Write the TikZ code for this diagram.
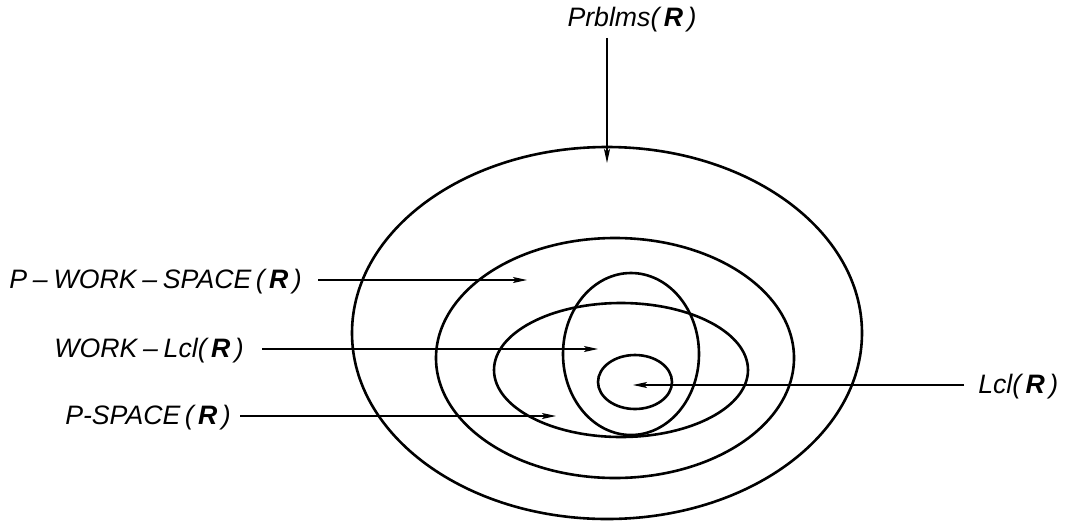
\documentclass[tikz,border=0pt]{standalone}
\usepackage{fontspec}
\setmainfont{Liberation Sans}
\usetikzlibrary{arrows.meta}
\tikzset{
  ring/.style={line width=2.6pt*0.75},
  lbl/.style={inner sep=0pt, font=\fontsize{20}{24}\selectfont\itshape},
  pointer/.style={line width=0.8pt, -{Stealth[length=14pt*0.75, width=6pt*0.75, inset=3pt*0.75]}}
}
\newcommand{\RR}{\textbf{R}}
\begin{document}
\begin{tikzpicture}[x=0.75pt, y=-0.75pt]
\useasboundingbox (0,0) rectangle (1068,522);
% ellipses
\draw[ring] (607,333) ellipse [x radius=255, y radius=186];
\draw[ring] (615,358) ellipse [x radius=179, y radius=120];
\draw[ring] (621,370) ellipse [x radius=127, y radius=67];
\draw[ring] (631,354) ellipse [x radius=68, y radius=81];
\draw[ring] (635,382) ellipse [x radius=37, y radius=27];
% labels
\node[lbl, anchor=base] (prb) at (632,26) {Prblms(\,\RR\,)};
\node[lbl, anchor=base east] (pws) at (302,288) {P\,\kern1pt–\kern1pt\,WORK\,\kern1pt–\kern1pt\,SPACE\,(\,\RR\,)};
\node[lbl, anchor=base east] (wl) at (244,357) {WORK\,\kern1pt–\kern1pt\,Lcl(\,\RR\,)};
\node[lbl, anchor=base east] (ps) at (231,424) {P-SPACE\,(\,\RR\,)};
\node[lbl, anchor=base west] (lcl) at (978,393) {Lcl(\,\RR\,)};
% targets
\coordinate (tprb) at (607,163);
\coordinate (tpws) at (527,280);
\coordinate (twl) at (598,349);
\coordinate (tps) at (556,416);
\coordinate (tlcl) at (633,385);
% pointers
\draw[pointer] (prb.south -| tprb) ++(0,6) -- (tprb);
\draw[pointer] (pws.east |- tpws) ++(16,0) -- (tpws);
\draw[pointer] (wl.east |- twl) ++(18,0) -- (twl);
\draw[pointer] (ps.east |- tps) ++(9,0) -- (tps);
\draw[pointer] (lcl.west |- tlcl) ++(-14,0) -- (tlcl);
\end{tikzpicture}
\end{document}
